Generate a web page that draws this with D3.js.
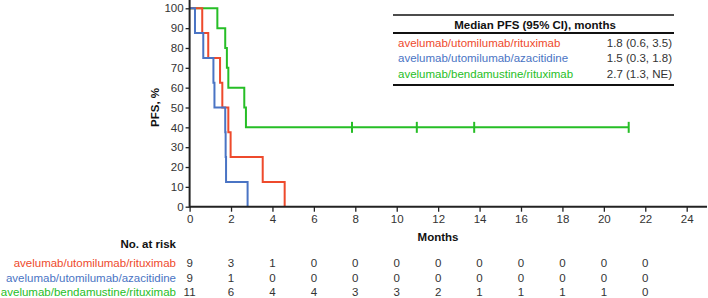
<!DOCTYPE html>
<html><head><meta charset="utf-8">
<script src="https://cdn.jsdelivr.net/npm/d3@7"></script>
<style>body{margin:0;background:#fff}svg{display:block;font-family:"Liberation Sans",Arial,sans-serif}</style>
</head><body><div id="chart"></div>
<script>
const seriesNames = ["avelumab/utomilumab/rituximab","avelumab/utomilumab/azacitidine","avelumab/bendamustine/rituximab"];
const seriesColors = ["#ee4a2c","#4a74c4","#26be26"];
const medianText = ["1.8 (0.6, 3.5)","1.5 (0.3, 1.8)","2.7 (1.3, NE)"];
const redTimes = [0,0.61,0.9,1.47,1.58,1.87,1.98,3.53,4.59];
const redSurv  = [100,87.5,75,62.5,50,37.5,25,12.5,0];
const blueTimes = [0,0.26,0.66,1.15,1.2,1.72,1.74,1.76,2.8];
const blueSurv  = [100,87.5,75,62.5,50,37.5,25,12.5,0];
const greenTimes = [0,1.34,1.72,1.8,1.87,2.64,2.72,21.2];
const greenSurv  = [100,90,80,70,60,50,40,40];
const greenCensorTimes = [7.84,10.97,13.74,21.2];
const greenCensorSurv = [40,40,40,40];
const xTicks = [0,2,4,6,8,10,12,14,16,18,20,22,24];
const yTicks = [0,10,20,30,40,50,60,70,80,90,100];
const riskTimes = [0,2,4,6,8,10,12,14,16,18,20,22];
const riskRed   = [9,3,1,0,0,0,0,0,0,0,0,0];
const riskBlue  = [9,1,0,0,0,0,0,0,0,0,0,0];
const riskGreen = [11,6,4,4,3,3,2,1,1,1,1,0];

const W=708,H=298, FS=11.5;
const svg=d3.select("#chart").append("svg").attr("width",W).attr("height",H);
const x=d3.scaleLinear().domain([0,24]).range([189.6,686.7]);
const y=d3.scaleLinear().domain([0,100]).range([206.7,8.3]);
const axisCol="#222", txtCol="#333";

// curves
const line=d3.line().x(d=>x(d[0])).y(d=>y(d[1])).curve(d3.curveStepAfter);
const curves=[[redTimes,redSurv],[blueTimes,blueSurv],[greenTimes,greenSurv]];
[2,0,1].forEach(i=>{
  const pts=curves[i][0].map((t,j)=>[t,curves[i][1][j]]);
  svg.append("path").attr("d",line(pts)).attr("fill","none").attr("stroke",seriesColors[i]).attr("stroke-width",2);
});
svg.selectAll(".cens").data(greenCensorTimes.map((t,j)=>[t,greenCensorSurv[j]])).enter().append("line")
  .attr("x1",d=>x(d[0])).attr("x2",d=>x(d[0])).attr("y1",d=>y(d[1])-5.5).attr("y2",d=>y(d[1])+5.5)
  .attr("stroke",seriesColors[2]).attr("stroke-width",2);

// axes
const xa=svg.append("g").attr("transform",`translate(0,${y(0)})`).call(d3.axisBottom(x).tickValues(xTicks).tickSize(5).tickSizeOuter(0));
xa.select(".domain").remove();
xa.append("line").attr("x1",x(0)).attr("x2",707).attr("stroke",axisCol).attr("stroke-width",2);
xa.selectAll(".tick line").attr("stroke",axisCol).attr("stroke-width",1.3);
xa.selectAll(".tick text").attr("fill",txtCol).attr("font-size",FS).attr("y",8);
const ya=svg.append("g").attr("transform",`translate(${x(0)},0)`).call(d3.axisLeft(y).tickValues(yTicks).tickSize(4).tickSizeOuter(0));
ya.select(".domain").remove();
ya.append("line").attr("y1",0).attr("y2",y(0)+1).attr("stroke",axisCol).attr("stroke-width",2);
ya.selectAll(".tick line").attr("stroke",axisCol).attr("stroke-width",1.3);
ya.selectAll(".tick text").attr("fill",txtCol).attr("font-size",FS).attr("x",-6);
xa.attr("font-family",null); ya.attr("font-family",null);

svg.append("text").attr("transform",`translate(155,${y(50)}) rotate(-90)`).attr("text-anchor","middle")
  .attr("dominant-baseline","central").attr("font-weight","bold").attr("font-size",FS).attr("fill","#111").text("PFS, %");
svg.append("text").attr("x",438).attr("y",237).attr("text-anchor","middle").attr("dominant-baseline","central")
  .attr("font-weight","bold").attr("font-size",FS).attr("fill","#111").text("Months");

// legend table
const tL=393,tR=674;
svg.append("line").attr("x1",tL).attr("x2",tR).attr("y1",15).attr("y2",15).attr("stroke","#111").attr("stroke-width",1.3);
svg.append("line").attr("x1",tL).attr("x2",tR).attr("y1",33).attr("y2",33).attr("stroke","#111").attr("stroke-width",2);
svg.append("line").attr("x1",tL).attr("x2",tR).attr("y1",85).attr("y2",85).attr("stroke","#111").attr("stroke-width",2);
svg.append("text").attr("x",535).attr("y",24.5).attr("text-anchor","middle").attr("dominant-baseline","central")
  .attr("font-weight","bold").attr("font-size",FS).attr("fill","#111").text("Median PFS (95% CI), months");
const rowY=[42.5,58,73.5];
seriesNames.forEach((n,i)=>{
  svg.append("text").attr("x",398).attr("y",rowY[i]).attr("dominant-baseline","central").attr("font-size",FS).attr("fill",seriesColors[i]).text(n);
  svg.append("text").attr("x",672).attr("y",rowY[i]).attr("text-anchor","end").attr("dominant-baseline","central").attr("font-size",FS).attr("fill",txtCol).text(medianText[i]);
});

// risk table
svg.append("text").attr("x",176).attr("y",243.5).attr("text-anchor","end").attr("dominant-baseline","central")
  .attr("font-weight","bold").attr("font-size",FS).attr("fill","#111").text("No. at risk");
const risks=[riskRed,riskBlue,riskGreen], riskY=[263,277.5,292];
risks.forEach((r,i)=>{
  svg.append("text").attr("x",176).attr("y",riskY[i]).attr("text-anchor","end").attr("dominant-baseline","central").attr("font-size",FS).attr("fill",seriesColors[i]).text(seriesNames[i]);
  svg.selectAll(null).data(r).enter().append("text").attr("x",(d,j)=>x(riskTimes[j])).attr("y",riskY[i])
    .attr("text-anchor","middle").attr("dominant-baseline","central").attr("font-size",FS).attr("fill",txtCol).text(d=>d);
});
</script></body></html>
